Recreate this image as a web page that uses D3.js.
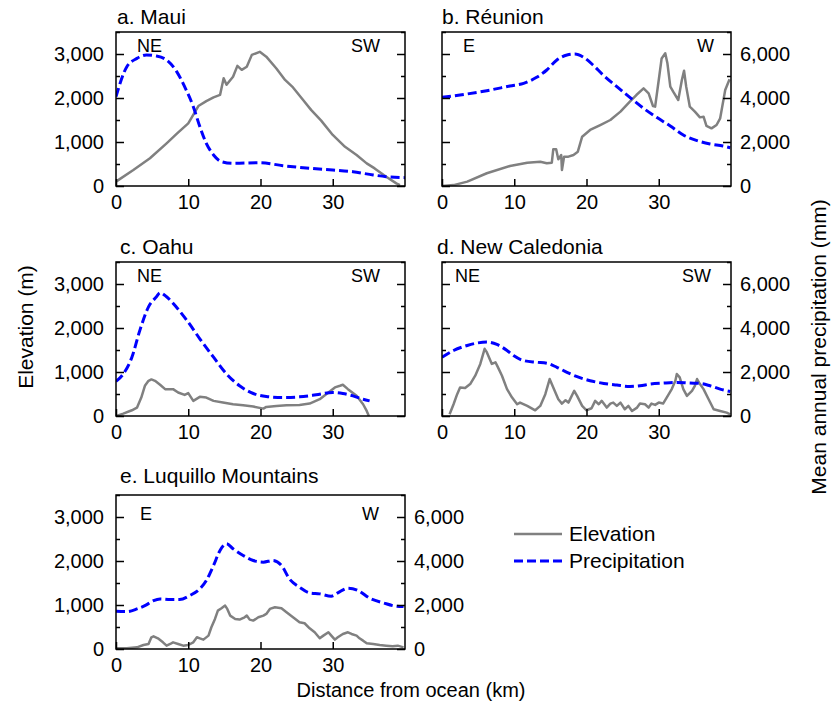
<!DOCTYPE html>
<html>
<head>
<meta charset="utf-8">
<script src="https://cdn.jsdelivr.net/npm/d3@7/dist/d3.min.js"></script>
<style>
  html, body { margin: 0; padding: 0; background: #fff; }
  svg text { font-family: "Liberation Sans", Arial, sans-serif; fill: #000; }
</style>
</head>
<body>
<svg id="chart" width="836" height="709"></svg>
<script>
// Distance from ocean (km) vs elevation (m) and mean annual precipitation (mm)

const kmTicks = [0, 10, 20, 30];
const elevTicks = [0, 1000, 2000, 3000];
const precipTicks = [0, 2000, 4000, 6000];

// a. Maui  [km, value]
const mauiElevation = [[0,100],[2.4,364],[4.7,630],[7,970],[8.5,1200],[10,1424],[11.4,1818],[12.5,1930],[13.5,2015],[14.4,2070],[14.9,2450],[15.3,2300],[16.2,2485],[16.8,2730],[17.4,2640],[18.1,2710],[18.8,2980],[19.9,3050],[20.8,2940],[22.2,2670],[23.4,2410],[24.5,2240],[25.9,1955],[27,1730],[28.4,1485],[30,1160],[31.7,890],[33.3,705],[34.7,515],[35.8,400],[37.4,212],[38.8,60],[39.3,20]];
const mauiPrecip = [[0,4060],[1.5,5424],[2.9,5800],[4.2,5955],[5.6,5910],[7,5727],[8.4,5200],[9.5,4515],[10.7,3606],[11.6,2700],[12.5,1940],[13.5,1410],[14.6,1106],[16.2,1030],[19.9,1060],[23.1,924],[26.8,803],[30,727],[32.8,650],[35.6,500],[37.4,424],[40,380]];

// b. Réunion
const reunionElevation = [[0,0],[1.6,20],[3.5,100],[6.2,290],[9.4,455],[11.8,530],[13.6,550],[14.5,515],[15.2,530],[15.4,833],[15.8,833],[16.1,606],[16.5,705],[16.6,364],[16.9,667],[17.5,667],[18.2,705],[18.8,780],[19.4,1121],[20.5,1273],[21.9,1386],[23.3,1500],[24.7,1690],[26,1917],[26.9,2068],[27.9,2220],[28.6,2106],[29.2,1818],[29.5,1803],[30,2409],[30.4,2900],[30.9,3015],[31.2,2788],[31.6,2258],[32,2144],[32.7,1955],[33.2,2409],[33.5,2620],[33.8,2258],[34.3,1803],[35,1690],[35.7,1560],[36.2,1575],[36.6,1364],[37.3,1310],[38,1386],[38.5,1538],[39.2,2182],[39.8,2424]];
const reunionPrecip = [[0,4030],[2.5,4136],[6.2,4333],[9.4,4545],[11.3,4667],[13.1,4940],[14.5,5273],[15.9,5727],[17.3,5955],[18.4,6000],[19.6,5850],[20.9,5500],[22.3,5045],[24.2,4515],[26,4030],[27.9,3530],[29.7,3121],[31.6,2727],[33.4,2318],[35.3,2060],[37.1,1909],[38.9,1818],[39.9,1742]];

// c. Oahu
const oahuElevation = [[0,0],[1,53],[2.2,130],[2.9,190],[3.5,420],[4,687],[4.5,800],[4.9,832],[5.4,800],[6.1,710],[6.8,610],[7.9,610],[8.6,534],[9.5,480],[10,520],[10.7,344],[11.6,435],[12.5,420],[13.5,344],[14.8,305],[16.2,267],[17.6,244],[19,214],[20.4,168],[20.8,206],[22.2,229],[23.6,244],[25.4,252],[26.8,282],[28.2,382],[29.4,534],[30.3,650],[31,687],[31.4,710],[32.1,610],[33.3,458],[34.2,267],[34.7,115],[35,0]];
const oahuPrecip = [[0,1572],[1,1908],[2.2,2672],[3.3,3893],[4.5,4962],[5.6,5420],[6.1,5603],[7,5420],[8.4,4931],[9.8,4351],[11.6,3511],[13.5,2672],[15.3,1908],[17.1,1374],[19,1023],[20.8,885],[23.1,840],[25.4,870],[27.7,962],[30,1069],[31.4,1023],[32.8,916],[34.2,763],[35.1,687]];

// d. New Caledonia
const caledoniaElevation = [[1.05,38],[1.6,267],[2.1,496],[2.5,649],[3.2,634],[3.9,725],[4.6,916],[5.3,1183],[5.9,1527],[6.2,1450],[6.9,1183],[7.4,1221],[7.7,1122],[8.3,916],[9,611],[9.7,420],[10.4,267],[10.8,305],[11.8,229],[12.9,130],[13.6,229],[14.3,496],[14.9,840],[15.4,649],[16.1,382],[16.6,282],[17.1,359],[17.5,305],[18.3,573],[18.7,458],[19.4,229],[20,130],[20.7,176],[21.2,344],[21.7,267],[22.1,344],[22.8,191],[23.3,282],[23.7,305],[24.2,229],[24.7,305],[25.3,153],[25.8,229],[26.3,115],[27,191],[27.4,282],[28.1,267],[28.6,191],[29,282],[29.5,252],[30,305],[30.6,282],[31.1,420],[31.8,611],[32.3,802],[32.5,954],[32.9,878],[33.4,611],[33.9,458],[34.6,573],[35,687],[35.3,840],[35.7,725],[36.2,611],[36.9,382],[37.6,153],[38.5,115],[39.4,76],[39.9,38]];
const caledoniaPrecip = [[0,2672],[1.6,2977],[3.5,3206],[4.8,3313],[6.2,3359],[7.6,3252],[9,2977],[9.9,2748],[11.3,2519],[13.1,2443],[14.5,2397],[15.9,2214],[17.3,1985],[18.7,1786],[20.5,1603],[22.4,1481],[24.2,1405],[26,1344],[27.4,1374],[28.8,1450],[30.6,1496],[32.5,1527],[34.3,1496],[35.7,1481],[37.1,1374],[38.5,1221],[39.9,1115]];

// e. Luquillo Mountains
const luquilloElevation = [[0,15],[1.5,15],[2.9,38],[3.8,91],[4.5,114],[4.9,266],[5.2,289],[5.8,243],[6.5,152],[7,76],[7.5,114],[7.9,152],[8.6,114],[9.3,76],[10,91],[10.7,152],[11.2,266],[11.6,243],[12.1,213],[12.8,304],[13.2,494],[13.7,683],[14.1,873],[14.6,926],[15.1,987],[15.4,911],[15.8,759],[16.5,683],[17.1,668],[17.8,721],[18.1,759],[18.5,668],[19,645],[19.7,721],[20.4,759],[20.8,797],[21.3,911],[22,949],[22.9,926],[23.6,835],[24.5,721],[25.4,607],[26.1,585],[26.8,471],[27.5,380],[28.2,243],[28.7,304],[29.4,380],[29.8,304],[30.3,213],[30.7,266],[31.4,342],[32.1,380],[32.6,342],[33.3,304],[33.7,243],[34.2,190],[34.7,129],[35.6,114],[36.5,91],[37.4,76],[38.3,61],[39,76],[39.8,38]];
const luquilloPrecip = [[0,1716],[1.5,1701],[2.9,1822],[4.2,2005],[5.2,2202],[6.1,2278],[7.5,2248],[8.8,2248],[10.2,2430],[11.6,2734],[12.5,3113],[13.5,3797],[14.4,4480],[15.3,4784],[16.2,4556],[17.6,4252],[19,4024],[20.4,3948],[21.7,4024],[22.9,3797],[24,3189],[25.4,2810],[26.8,2551],[28.2,2506],[29.8,2399],[30.7,2551],[32.1,2764],[33.5,2658],[35.1,2309],[37,2096],[38.8,1944],[39.8,1929]];

const panels = [
  { title: "a. Maui", from: "NE", to: "SW", elev: mauiElevation, precip: mauiPrecip,
    x: 116, y: 32, leftLabels: true, rightLabels: false,
    titleDx: 1, titleDy: -8, fromDx: 21, toDx: 25, dirDy: 20 },
  { title: "b. Réunion", from: "E", to: "W", elev: reunionElevation, precip: reunionPrecip,
    x: 442, y: 32, leftLabels: false, rightLabels: true,
    titleDx: 0, titleDy: -8, fromDx: 21, toDx: 17, dirDy: 20 },
  { title: "c. Oahu", from: "NE", to: "SW", elev: oahuElevation, precip: oahuPrecip,
    x: 116, y: 262, leftLabels: true, rightLabels: false,
    titleDx: 4, titleDy: -8, fromDx: 21, toDx: 25, dirDy: 20 },
  { title: "d. New Caledonia", from: "NE", to: "SW", elev: caledoniaElevation, precip: caledoniaPrecip,
    x: 442, y: 262, leftLabels: false, rightLabels: true,
    titleDx: -5, titleDy: -8, fromDx: 13, toDx: 20, dirDy: 20 },
  { title: "e. Luquillo Mountains", from: "E", to: "W", elev: luquilloElevation, precip: luquilloPrecip,
    x: 116, y: 495, leftLabels: true, rightLabels: true,
    titleDx: 4, titleDy: -12, fromDx: 24, toDx: 26, dirDy: 25 }
];

const W = 289, H = 154;
const GRAY = "#808080", BLUE = "#0000ff";
const TICK_FS = 20, TITLE_FS = 21, DIR_FS = 18, LABEL_FS = 21;
const FONT = '"Liberation Sans", Arial, sans-serif';

const svg = d3.select("#chart");

const x = d3.scaleLinear().domain([0, 40]).range([0, W]);
const yElev = d3.scaleLinear().domain([0, 3500]).range([H, 0]);
const yPrecip = d3.scaleLinear().domain([0, 7000]).range([H, 0]);

const elevLine = d3.line().x(d => x(d[0])).y(d => yElev(d[1]));
const precipLine = d3.line().x(d => x(d[0])).y(d => yPrecip(d[1])).curve(d3.curveMonotoneX);

panels.forEach(p => {
  const g = svg.append("g").attr("transform", `translate(${p.x},${p.y})`);

  const clip = "clip-" + p.x + "-" + p.y;
  g.append("clipPath").attr("id", clip).append("rect").attr("width", W).attr("height", H);

  const plot = g.append("g").attr("clip-path", `url(#${clip})`);
  plot.append("path").datum(p.elev).attr("d", elevLine)
    .attr("fill", "none").attr("stroke", GRAY).attr("stroke-width", 2.5)
    .attr("stroke-linejoin", "round");
  plot.append("path").datum(p.precip).attr("d", precipLine)
    .attr("fill", "none").attr("stroke", BLUE).attr("stroke-width", 3)
    .attr("stroke-dasharray", "9,4");

  // frame
  g.append("rect").attr("width", W).attr("height", H)
    .attr("fill", "none").attr("stroke", "#000").attr("stroke-width", 1.5);

  // left axis: inward ticks every 500 m, labelled on the outer panels
  const left = g.append("g").call(
    d3.axisLeft(yElev).tickValues(d3.range(0, 3501, 500))
      .tickSize(-4).tickFormat(d => (p.leftLabels && elevTicks.includes(d)) ? d3.format(",")(d) : "")
  );
  left.select(".domain").remove();
  left.selectAll(".tick line").attr("x2", d => d % 1000 === 0 ? 8 : 4).attr("stroke-width", 1.5);
  left.selectAll(".tick text").attr("x", -12).style("font-size", TICK_FS + "px").style("font-family", FONT);

  // right axis (precipitation)
  const right = g.append("g").attr("transform", `translate(${W},0)`).call(
    d3.axisRight(yPrecip).tickValues(d3.range(0, 7001, 1000))
      .tickSize(-4).tickFormat(d => (p.rightLabels && precipTicks.includes(d)) ? d3.format(",")(d) : "")
  );
  right.select(".domain").remove();
  right.selectAll(".tick line").attr("x2", d => d % 2000 === 0 ? -8 : -4).attr("stroke-width", 1.5);
  right.selectAll(".tick text").attr("x", 9).style("font-size", TICK_FS + "px").style("font-family", FONT);

  // bottom axis
  const bottom = g.append("g").attr("transform", `translate(0,${H})`).call(
    d3.axisBottom(x).tickValues(kmTicks).tickSize(-7).tickPadding(0)
  );
  bottom.select(".domain").remove();
  bottom.selectAll(".tick line").attr("stroke-width", 1.5);
  bottom.selectAll(".tick text").attr("y", 9).attr("dy", "0.71em")
    .style("font-size", TICK_FS + "px").style("font-family", FONT);

  // title and direction labels
  g.append("text").attr("x", p.titleDx).attr("y", p.titleDy)
    .style("font-size", TITLE_FS + "px").text(p.title);
  g.append("text").attr("x", p.fromDx).attr("y", p.dirDy)
    .style("font-size", DIR_FS + "px").text(p.from);
  g.append("text").attr("x", W - p.toDx).attr("y", p.dirDy).attr("text-anchor", "end")
    .style("font-size", DIR_FS + "px").text(p.to);
});

// axis titles
svg.append("text").attr("transform", "translate(33,327) rotate(-90)")
  .attr("text-anchor", "middle").style("font-size", LABEL_FS + "px").text("Elevation (m)");
svg.append("text").attr("transform", "translate(826,347) rotate(-90)")
  .attr("text-anchor", "middle").style("font-size", LABEL_FS + "px").text("Mean annual precipitation (mm)");
svg.append("text").attr("x", 411).attr("y", 697)
  .attr("text-anchor", "middle").style("font-size", "20px").text("Distance from ocean (km)");

// legend
const legend = svg.append("g").attr("transform", "translate(514,534)");
const legendItems = [
  { label: "Elevation", color: GRAY, dash: null, width: 2.5 },
  { label: "Precipitation", color: BLUE, dash: "9,4", width: 3 }
];
legendItems.forEach((it, i) => {
  const row = legend.append("g").attr("transform", `translate(0,${i * 27})`);
  row.append("line").attr("x1", 0).attr("x2", 48).attr("y1", 0).attr("y2", 0)
    .attr("stroke", it.color).attr("stroke-width", it.width)
    .attr("stroke-dasharray", it.dash);
  row.append("text").attr("x", 55).attr("y", 0).attr("dy", "0.35em")
    .style("font-size", LABEL_FS + "px").text(it.label);
});
</script>
</body>
</html>
